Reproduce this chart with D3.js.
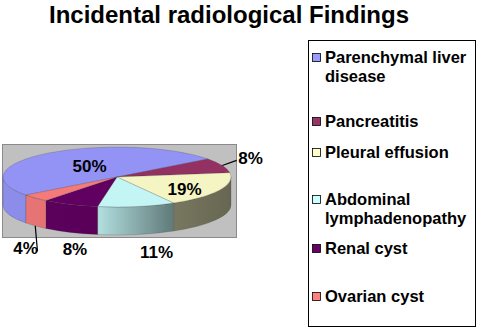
<!DOCTYPE html>
<html>
<head>
<meta charset="utf-8">
<script src="https://cdn.jsdelivr.net/npm/d3@7"></script>
<style>
  body { margin: 0; background: #fff; }
  svg { display: block; font-family: "Liberation Sans", Arial, Helvetica, sans-serif; font-weight: bold; }
</style>
</head>
<body>
<div class="container"></div>
<script>
// Chart data
const categories = ["Parenchymal liver disease", "Pancreatitis", "Pleural effusion",
                    "Abdominal lymphadenopathy", "Renal cyst", "Ovarian cyst"]
const legendLines = [["Parenchymal liver", "disease"], ["Pancreatitis"], ["Pleural effusion"],
                     ["Abdominal", "lymphadenopathy"], ["Renal cyst"], ["Ovarian cyst"]]
const values = [50, 8, 19, 11, 8, 4]
const colors = ["#9999FF", "#993366", "#FFFFCC", "#CCFFFF", "#660066", "#FF8080"]

const width = 478
const height = 332

// pie geometry (3D ellipse)
const cx = 117, cy = 177, rx = 114, ry = 30, depth = 28
const startDeg = 233   // d3 angle where the first slice begins

// label fit: radial factor k, extra dy, outside flag (relative placement)
const labelFit = [
    {k: 0.40, dy: -1, out: false},
    {k: 1.27, dy: -4, out: false, leader: true},
    {k: 0.66, dy: 3, out: false},
    {k: 2.0, dy: -12, out: true},
    {k: 0.9, dy: 19, out: true},
    {k: 1.12, dy: 20, out: true, leader: true}
]

const svg = d3.select(".container")
    .append("svg")
    .attr("width", width)
    .attr("height", height)

const defs = svg.append("defs")

// title
svg.append("text")
    .attr("x", 229)
    .attr("y", 23)
    .attr("text-anchor", "middle")
    .style("font-size", "24px")
    .text("Incidental radiological Findings")

// plot area
svg.append("rect")
    .attr("x", 2.5).attr("y", 144.5)
    .attr("width", 234).attr("height", 93)
    .style("fill", "#c0c0c0")
    .style("stroke", "#8a8a8a")

const pie = d3.pie().sort(null)
    .startAngle(startDeg * Math.PI / 180)
    .endAngle(startDeg * Math.PI / 180 + 2 * Math.PI)
const arcs = pie(values)

// d3 angle -> screen parametric angle
const toT = a => a - Math.PI / 2
const pt = (t, k = 1, off = 0) => [cx + rx * k * Math.cos(t), cy + ry * k * Math.sin(t) + off]

function shade(c, f) {
    return d3.interpolateRgb("#000", c)(f)
}

// side walls (front half only)
const side = svg.append("g")
arcs.forEach((d, i) => {
    const t0 = toT(d.startAngle), t1 = toT(d.endAngle)
    const grad = defs.append("linearGradient")
        .attr("id", "side" + i)
        .attr("gradientUnits", "userSpaceOnUse")
        .attr("x1", cx - rx).attr("x2", cx + rx)
        .attr("y1", 0).attr("y2", 0)
    const stops = [[0, 0.92], [0.42, 0.87], [0.75, 0.47], [1, 0.40]]
    stops.forEach(s => grad.append("stop")
        .attr("offset", s[0])
        .attr("stop-color", shade(colors[i], s[1])))

    ;[[0, Math.PI], [2 * Math.PI, 3 * Math.PI]].forEach(([f0, f1]) => {
        const a = Math.max(t0, f0), b = Math.min(t1, f1)
        if (b <= a) return
        const p0 = pt(a), p1 = pt(b), q1 = pt(b, 1, depth), q0 = pt(a, 1, depth)
        const large = (b - a) > Math.PI ? 1 : 0
        side.append("path")
            .attr("d", `M${p0}A${rx},${ry} 0 ${large} 1 ${p1}L${q1}A${rx},${ry} 0 ${large} 0 ${q0}Z`)
            .style("fill", `url(#side${i})`)
            .style("stroke", "#333")
            .style("stroke-opacity", 0.35)
            .style("stroke-width", 0.6)
    })
})

// top faces
svg.append("g")
    .selectAll("path")
    .data(arcs)
    .enter()
    .append("path")
        .attr("d", d => {
            const t0 = toT(d.startAngle), t1 = toT(d.endAngle)
            const large = (t1 - t0) > Math.PI ? 1 : 0
            return `M${cx},${cy}L${pt(t0)}A${rx},${ry} 0 ${large} 1 ${pt(t1)}Z`
        })
        .style("fill", (d, i) => shade(colors[i], 0.96))
        .style("stroke", "#333")
        .style("stroke-opacity", 0.35)
        .style("stroke-width", 0.6)

// percent labels
const labels = svg.append("g").style("font-size", "17px")
arcs.forEach((d, i) => {
    const t = toT((d.startAngle + d.endAngle) / 2)
    const fit = labelFit[i]
    const [lx, ly] = pt(t, fit.k, (fit.out ? depth : 0) + fit.dy)
    labels.append("text")
        .attr("x", lx).attr("y", ly)
        .attr("dy", "0.35em")
        .attr("text-anchor", "middle")
        .text(Math.round(d.value / d3.sum(values) * 100) + "%")
    if (fit.leader) {
        const rim = Math.sin(t) > 0 ? pt(t, 1, depth) : pt(t)
        const end = Math.sin(t) > 0 ? [lx + 12, ly + 3] : [lx - 14, ly + 2]
        labels.append("line")
            .attr("x1", rim[0]).attr("y1", rim[1])
            .attr("x2", end[0]).attr("y2", end[1])
            .style("stroke", "#000")
            .style("stroke-width", 1.2)
    }
})

// legend
const legend = svg.append("g").attr("id", "legend")
legend.append("rect")
    .attr("x", 308.5).attr("y", 40.5)
    .attr("width", 167).attr("height", 286)
    .style("fill", "#fff")
    .style("stroke", "#000")

const baselines = [63, 127, 158, 205, 254, 302]
categories.forEach((c, i) => {
    const g = legend.append("g").attr("transform", `translate(0, ${baselines[i]})`)
    g.append("rect")
        .attr("x", 312.5).attr("y", -9.5)
        .attr("width", 8).attr("height", 8)
        .style("fill", colors[i])
        .style("stroke", "#000")
        .style("stroke-width", 0.8)
    legendLines[i].forEach((line, j) => {
        g.append("text")
            .attr("x", 325)
            .attr("y", j * 19)
            .style("font-size", "16.5px")
            .text(line)
    })
})
</script>
</body>
</html>
